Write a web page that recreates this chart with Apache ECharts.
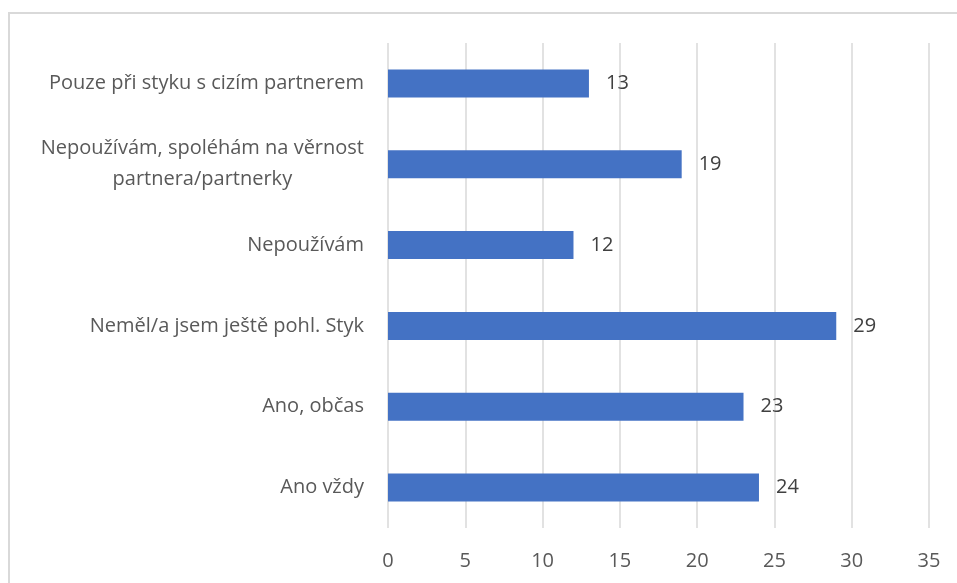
<!DOCTYPE html>
<html>
<head>
<meta charset="utf-8">
<script src="https://cdn.jsdelivr.net/npm/echarts@6/dist/echarts.min.js"></script>
<style>
  html, body { margin: 0; padding: 0; background: #fff; }
  #chart { width: 957px; height: 583px; }
</style>
</head>
<body>
<div id="chart"></div>
<script>
// Answer categories, listed top to bottom
const categories = [
  'Pouze při styku s cizím partnerem',
  'Nepoužívám, spoléhám na věrnost\npartnera/partnerky',
  'Nepoužívám',
  'Neměl/a jsem ještě pohl. Styk',
  'Ano, občas',
  'Ano vždy'
];
const values = [13, 19, 12, 29, 23, 24];
const axisMin = 0;
const axisMax = 35;
const axisStep = 5;

const FONT = '"Open Sans", sans-serif';
const chart = echarts.init(document.getElementById('chart'), null, { renderer: 'canvas' });

chart.setOption({
  backgroundColor: '#ffffff',
  animation: false,
  graphic: [{
    type: 'rect',
    shape: { x: 9, y: 13, width: 1000, height: 700 },
    style: { fill: 'none', stroke: '#d9d9d9', lineWidth: 2 },
    silent: true
  }],
  grid: { left: 388, right: 28, top: 43, bottom: 55, containLabel: false },
  xAxis: {
    type: 'value',
    min: axisMin,
    max: axisMax,
    interval: axisStep,
    axisLine: { show: false },
    axisTick: { show: false },
    splitLine: { show: true, lineStyle: { color: '#d9d9d9', width: 1.5 } },
    axisLabel: { color: '#595959', fontSize: 20, fontFamily: FONT, margin: 23 }
  },
  yAxis: {
    type: 'category',
    inverse: true,
    data: categories,
    axisLine: { show: false },
    axisTick: { show: false },
    axisLabel: {
      margin: 24,
      formatter: function (v) {
        return v.split('\n').map(function (s) { return '{a|' + s + '}'; }).join('\n');
      },
      rich: {
        a: { color: '#595959', fontSize: 20, fontFamily: FONT, align: 'center', lineHeight: 31 }
      }
    }
  },
  series: [{
    type: 'bar',
    data: values,
    barWidth: 28,
    itemStyle: { color: '#4472c4' },
    label: {
      show: true,
      position: 'right',
      distance: 17,
      color: '#404040',
      fontSize: 20,
      fontFamily: FONT
    }
  }]
});
</script>
</body>
</html>
